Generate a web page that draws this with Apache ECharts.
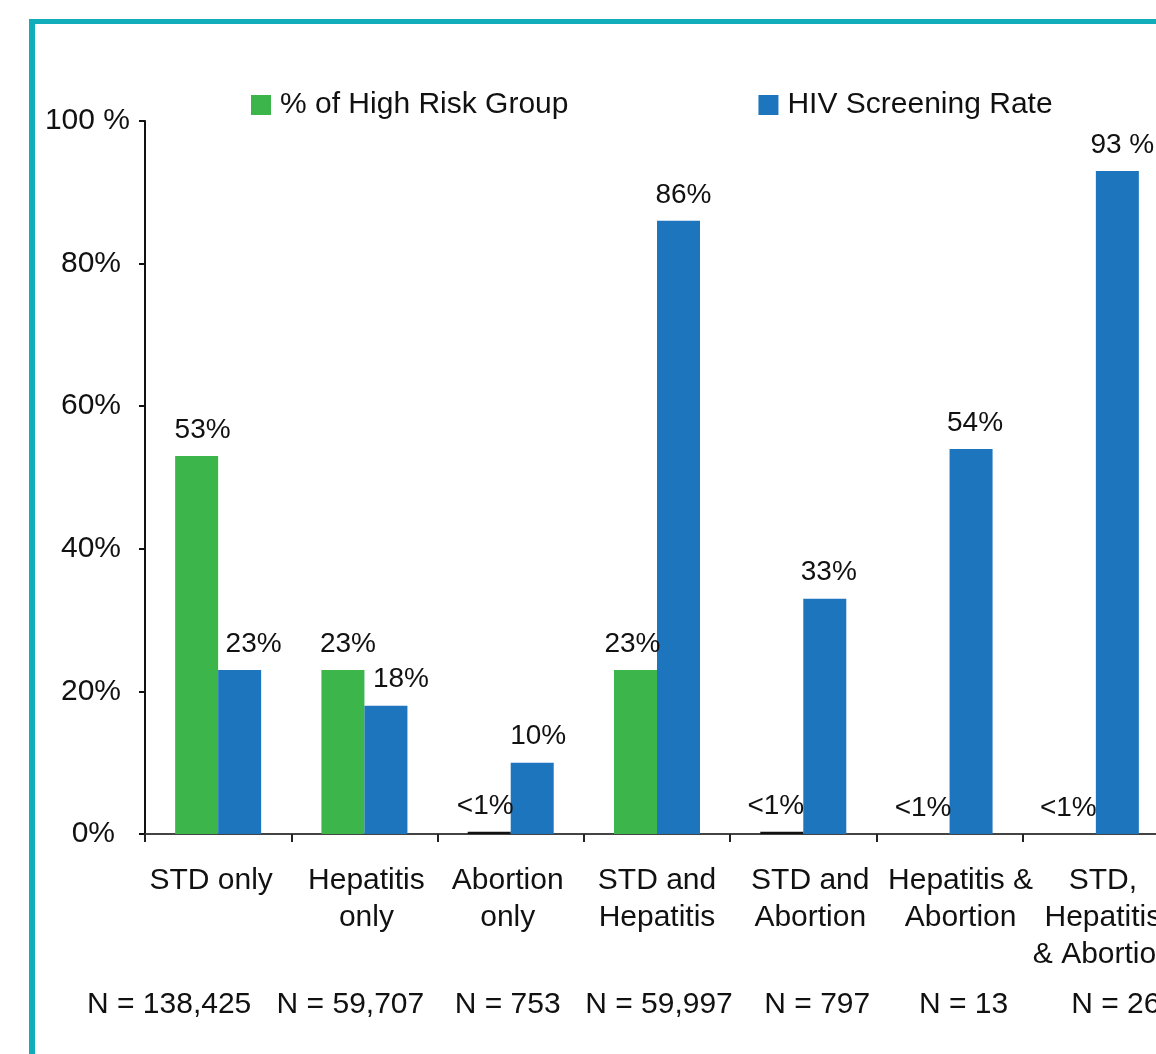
<!DOCTYPE html>
<html>
<head>
<meta charset="utf-8">
<style>
  html, body { margin: 0; padding: 0; background: #fff; }
  #chart { width: 1156px; height: 1054px; }
</style>
<script src="https://cdn.jsdelivr.net/npm/echarts@6/dist/echarts.min.js"></script>
</head>
<body>
<div id="chart"></div>
<script>
var categories = ["STD only", "Hepatitis\nonly", "Abortion\nonly", "STD and\nHepatitis",
  "STD and\nAbortion", "Hepatitis &\nAbortion", "STD,\nHepatitis\n& Abortion"];
var sampleSizes = ["N = 138,425", "N = 59,707", "N = 753", "N = 59,997", "N = 797", "N = 13", "N = 26"];
var highRisk = [53, 23, 0.3, 23, 0.3, 0, 0];
var highRiskLabels = ["53%", "23%", "<1%", "23%", "<1%", "<1%", "<1%"];
var screening = [23, 18, 10, 86, 33, 54, 93];
var screeningLabels = ["23%", "18%", "10%", "86%", "33%", "54%", "93 %"];
var yTicks = [0, 20, 40, 60, 80, 100];

// horizontal nudges (px)
var greenShift = [6, 5, -4, -3, -6, -5, -6];
var blueShift = [14, 15, 6, 5, 4, 4, 5];
var catShift = [-7, 2, -3, 0, 7, 11, 7];
var nShift = [-49, -14, -3, 2, 14, 14, 20];

var GREEN = "#3cb54a";
var BLUE = "#1d75bd";
var FONT = "'Liberation Sans', Arial, sans-serif";

var myChart = echarts.init(document.getElementById("chart"));

function buildItems(values, labels, shifts, tiny) {
  return values.map(function (v, i) {
    var item = {
      value: v,
      label: { formatter: labels[i], offset: [shifts[i], 0] }
    };
    if (tiny && v < 1) {
      item.itemStyle = { color: "#111" };
    }
    return item;
  });
}

// rich styles that move a centred axis label sideways by padding one side
function shiftStyles(prefix, shifts, size, lh) {
  var rich = {};
  shifts.forEach(function (s, i) {
    rich[prefix + i] = {
      fontSize: size,
      lineHeight: lh,
      color: "#111",
      fontFamily: FONT,
      padding: s >= 0 ? [0, 0, 0, 2 * s] : [0, -2 * s, 0, 0]
    };
  });
  return rich;
}

function wrapLines(prefix) {
  return function (value, index) {
    return value.split("\n").map(function (l) {
      return "{" + prefix + index + "|" + l + "}";
    }).join("\n");
  };
}

var labelStyle = {
  show: true,
  position: "top",
  distance: 12,
  color: "#111",
  fontSize: 28,
  fontFamily: FONT
};

myChart.setOption({
  backgroundColor: "#fff",
  animation: false,
  textStyle: { fontFamily: FONT },
  graphic: [
    { type: "rect", shape: { x: 29, y: 19, width: 1200, height: 5 }, style: { fill: "#12adbb" } },
    { type: "rect", shape: { x: 29, y: 19, width: 6, height: 1100 }, style: { fill: "#12adbb" } }
  ],
  legend: {
    left: 251,
    top: 90,
    padding: 0,
    itemWidth: 20,
    itemHeight: 20,
    itemGap: 190,
    icon: "rect",
    textStyle: { fontSize: 30, color: "#111", fontFamily: FONT, padding: [0, 0, 0, 4] },
    data: ["% of High Risk Group", "HIV Screening Rate"]
  },
  grid: {
    left: 145,
    right: -13,
    top: 121,
    bottom: 220,
    outerBoundsMode: "none"
  },
  xAxis: [
    {
      type: "category",
      data: categories,
      axisLine: { lineStyle: { color: "#444", width: 2 } },
      axisTick: { show: true, length: 8, lineStyle: { color: "#222", width: 2 } },
      axisLabel: {
        interval: 0,
        margin: 28,
        formatter: wrapLines("c"),
        rich: shiftStyles("c", catShift, 30, 37)
      }
    },
    {
      type: "category",
      position: "bottom",
      offset: 152,
      data: sampleSizes,
      axisLine: { show: false },
      axisTick: { show: false },
      axisLabel: {
        interval: 0,
        margin: 0,
        formatter: wrapLines("n"),
        rich: shiftStyles("n", nShift, 30, 37)
      }
    }
  ],
  yAxis: {
    type: "value",
    min: 0,
    max: 100,
    interval: 20,
    splitLine: { show: false },
    axisLine: { show: true, lineStyle: { color: "#111", width: 2 } },
    axisTick: { show: true, length: 6, lineStyle: { color: "#111", width: 2 } },
    axisLabel: {
      margin: 15,
      formatter: function (v) {
        if (v === yTicks[yTicks.length - 1]) return "{top|" + v + " %}";
        if (v === yTicks[0]) return "{zero|" + v + "%}";
        return "{mid|" + v + "%}";
      },
      rich: {
        top: { fontSize: 30, color: "#111", fontFamily: FONT },
        mid: { fontSize: 30, color: "#111", fontFamily: FONT, padding: [0, 9, 0, 0] },
        zero: { fontSize: 30, color: "#111", fontFamily: FONT, padding: [0, 15, 0, 0] }
      }
    }
  },
  series: [
    {
      name: "% of High Risk Group",
      type: "bar",
      barWidth: 43,
      barGap: "0%",
      itemStyle: { color: GREEN },
      label: labelStyle,
      data: buildItems(highRisk, highRiskLabels, greenShift, true)
    },
    {
      name: "HIV Screening Rate",
      type: "bar",
      barWidth: 43,
      barGap: "0%",
      itemStyle: { color: BLUE },
      label: labelStyle,
      data: buildItems(screening, screeningLabels, blueShift, false)
    }
  ]
});
</script>
</body>
</html>
